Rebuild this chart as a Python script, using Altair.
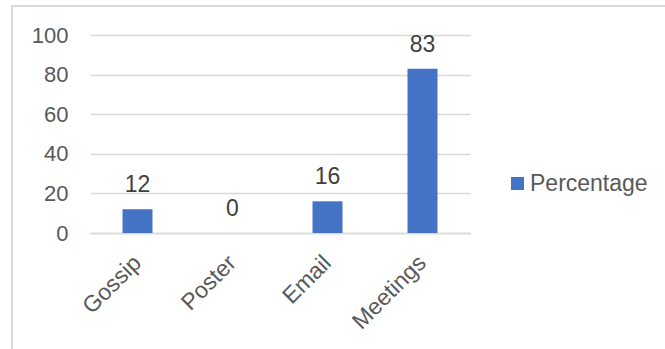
import altair as alt
import pandas as pd

categories = ["Gossip", "Poster", "Email", "Meetings"]
values = [12, 0, 16, 83]
series_name = ["Percentage"] * 4
y_ticks = [0, 20, 40, 60, 80, 100]

df = pd.DataFrame({"category": categories, "value": values, "series": series_name})

FONT = "Liberation Sans"

base = alt.Chart(df).encode(
    x=alt.X("category:N", sort=categories,
            scale=alt.Scale(paddingInner=0.0, paddingOuter=0.0),
            axis=alt.Axis(title=None, labelAngle=-45, labelAlign="right", labelBaseline="middle",
                          labelFontSize=23, labelColor="#595959", labelFont=FONT,
                          labelPadding=26, ticks=False, domainColor="#D9D9D9", domainWidth=1.5,
                          grid=False, labelOverlap=False)),
    y=alt.Y("value:Q", scale=alt.Scale(domain=[0, 100], nice=False),
            axis=alt.Axis(title=None, values=y_ticks, labelFontSize=22, labelColor="#595959",
                          labelFont=FONT, labelPadding=22, ticks=False, domain=False,
                          labelOverlap=False, labelFlush=False,
                          gridColor="#D9D9D9", gridWidth=1.5)),
)

bars = base.mark_bar(size=30).encode(
    color=alt.Color("series:N", scale=alt.Scale(range=["#4472C4"]),
                    legend=alt.Legend(title=None, orient="none", legendX=416, legendY=137,
                                      symbolType="square", symbolSize=169, symbolStrokeWidth=0,
                                      labelFontSize=23, labelColor="#595959", labelFont=FONT,
                                      labelOffset=1, padding=0))
)

labels = base.mark_text(fontSize=23, font=FONT, color="#404040", baseline="alphabetic", dy=-17).encode(
    text=alt.Text("value:Q")
)

border_top = alt.Chart(df).mark_rule(color="#D9D9D9", strokeWidth=2).encode(
    x=alt.value(-79), x2=alt.value(600), y=alt.value(-29)
)
border_left = alt.Chart(df).mark_rule(color="#D9D9D9", strokeWidth=2).encode(
    x=alt.value(-78), y=alt.value(-29), y2=alt.value(330)
)

chart = alt.layer(bars, labels, border_top, border_left).properties(
    width=380, height=198,
    autosize=alt.AutoSizeParams(type="none"),
    padding={"left": 90, "top": 35, "right": 195, "bottom": 116},
    background="white"
).configure_view(stroke=None)

chart.save("out.html", embed_options={"renderer": "svg", "actions": False})
